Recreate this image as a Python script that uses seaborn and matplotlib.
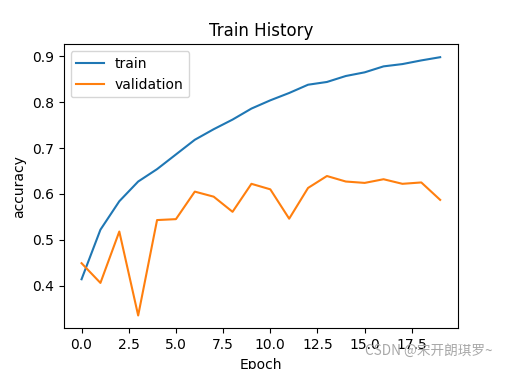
import numpy as np
import pandas as pd
import matplotlib
matplotlib.use("Agg")
import matplotlib.pyplot as plt
import seaborn as sns

epochs = list(range(20))
train_acc = [0.414, 0.522, 0.584, 0.627, 0.654, 0.686, 0.718, 0.741, 0.762, 0.786,
             0.804, 0.820, 0.838, 0.844, 0.857, 0.865, 0.878, 0.883, 0.891, 0.898]
val_acc = [0.449, 0.406, 0.518, 0.335, 0.543, 0.545, 0.605, 0.594, 0.561, 0.622,
           0.610, 0.546, 0.613, 0.639, 0.627, 0.624, 0.632, 0.622, 0.625, 0.587]

df = pd.DataFrame({"Epoch": epochs, "train": train_acc, "validation": val_acc})

fig, ax = plt.subplots(figsize=(5.09, 3.69), dpi=100)
sns.lineplot(data=df, x="Epoch", y="train", label="train", ax=ax)
sns.lineplot(data=df, x="Epoch", y="validation", label="validation", ax=ax)

ax.set_title("Train History")
ax.set_ylabel("accuracy")
ax.set_xlabel("Epoch")
ax.legend(loc="upper left")

# watermark
fig.text(0.717, 0.037, "CSDN @宋开朗琪罗~", fontsize=9.8, color="#a8a8a8",
         family=["Noto Sans CJK SC", "DejaVu Sans"])

fig.savefig("out.png")
